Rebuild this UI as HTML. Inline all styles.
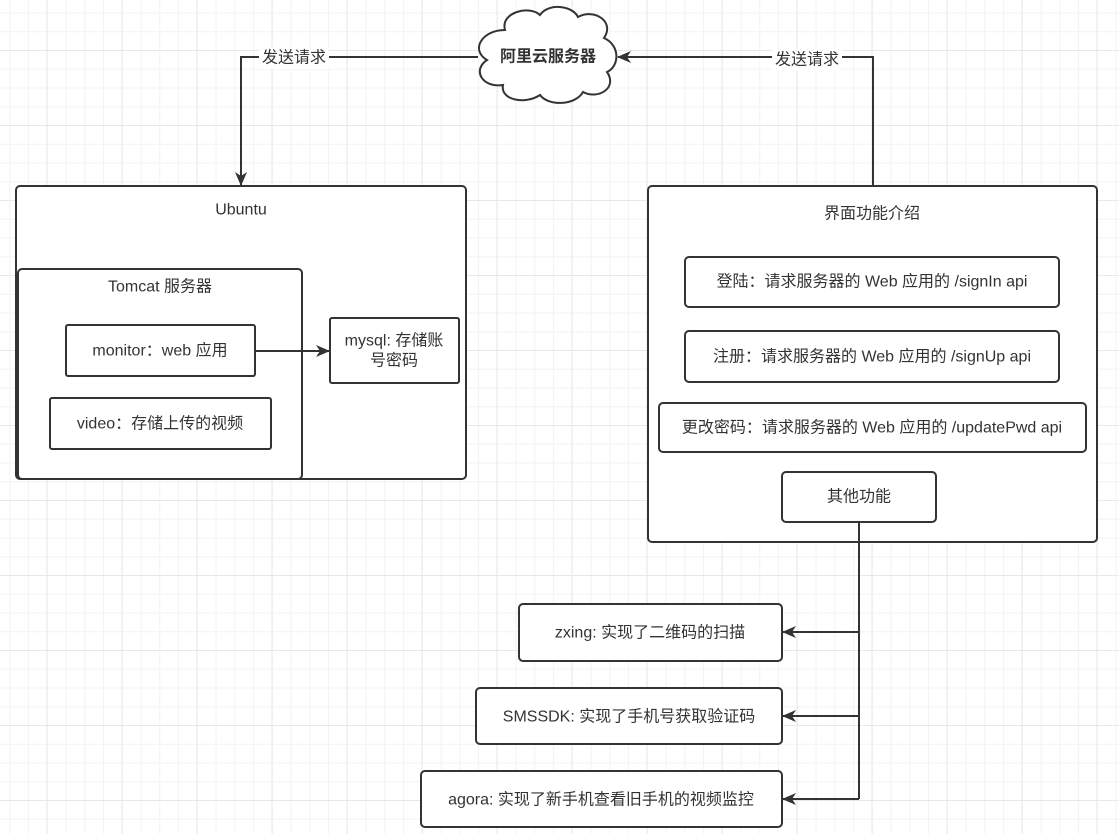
<!DOCTYPE html>
<html><head><meta charset="utf-8"><style>
body{margin:0;width:1119px;height:834px;overflow:hidden;background:#fff;
background-image:linear-gradient(#e8e8e8 1px,transparent 1px),linear-gradient(90deg,#e8e8e8 1px,transparent 1px),linear-gradient(#f3f3f3 1px,transparent 1px),linear-gradient(90deg,#f3f3f3 1px,transparent 1px);
background-size:75px 75px,75px 75px,18.75px 18.75px,18.75px 18.75px;
background-position:0 50px,46.5px 0,0 12.5px,9.3px 0;}
svg{position:absolute;left:0;top:0}
text{font-family:"Liberation Sans","Noto Sans CJK SC",sans-serif;font-size:16px;fill:#333;text-anchor:middle;dominant-baseline:central}
</style></head><body>
<svg width="1119" height="834" viewBox="0 0 1119 834">
<defs><marker id="a" markerWidth="14" markerHeight="14" refX="13" refY="7" orient="auto" markerUnits="userSpaceOnUse"><path d="M0,1 L14,7 L0,13 L4,7 Z" fill="#333"/></marker></defs>
<g fill="#fff" stroke="#333" stroke-width="2">
<rect x="16" y="186" width="450" height="293" rx="4"/>
<rect x="18" y="269" width="284" height="210" rx="4"/>
<rect x="66" y="325" width="189" height="51" rx="2"/>
<rect x="50" y="398" width="221" height="51" rx="2"/>
<rect x="330" y="318" width="129" height="65" rx="2"/>
<rect x="648" y="186" width="449" height="356" rx="4"/>
<rect x="685" y="257" width="374" height="50" rx="4"/>
<rect x="685" y="331" width="374" height="51" rx="4"/>
<rect x="659" y="403" width="427" height="49" rx="4"/>
<rect x="782" y="472" width="154" height="50" rx="4"/>
<rect x="519" y="604" width="263" height="57" rx="4"/>
<rect x="476" y="688" width="306" height="56" rx="4"/>
<rect x="421" y="771" width="361" height="56" rx="4"/>
<path d="M505,30 C500,12 530,5 540,15 C548,3 572,5 578,17 C595,8 615,22 604,38 C620,45 620,66 607,72 C618,88 598,100 583,92 C575,106 548,106 540,95 C525,105 500,100 503,85 C482,88 472,70 487,60 C470,50 482,30 505,30 Z"/>
</g>
<g fill="none" stroke="#333" stroke-width="2">
<path d="M478,57 H241 V185" marker-end="url(#a)"/>
<path d="M873,186 V57 H618" marker-end="url(#a)"/>
<path d="M255,351 H329" marker-end="url(#a)"/>
<path d="M859,522 V799"/>
<path d="M859,632 H783" marker-end="url(#a)"/>
<path d="M859,716 H783" marker-end="url(#a)"/>
<path d="M859,799 H783" marker-end="url(#a)"/>
</g>
<rect x="259" y="47" width="70" height="22" fill="#fff"/>
<rect x="772" y="49" width="70" height="22" fill="#fff"/>
<text x="294" y="58">发送请求</text>
<text x="807" y="60">发送请求</text>
<text x="548" y="57" style="font-weight:bold">阿里云服务器</text>
<text x="241" y="210">Ubuntu</text>
<text x="160" y="287">Tomcat 服务器</text>
<text x="160" y="351">monitor：web 应用</text>
<text x="160" y="424">video：存储上传的视频</text>
<text x="394" y="341">mysql: 存储账</text>
<text x="394" y="361">号密码</text>
<text x="872" y="214">界面功能介绍</text>
<text x="872" y="282">登陆：请求服务器的 Web 应用的 /signIn api</text>
<text x="872" y="357">注册：请求服务器的 Web 应用的 /signUp api</text>
<text x="872" y="428">更改密码：请求服务器的 Web 应用的 /updatePwd api</text>
<text x="859" y="497">其他功能</text>
<text x="650" y="633">zxing: 实现了二维码的扫描</text>
<text x="629" y="717">SMSSDK: 实现了手机号获取验证码</text>
<text x="601" y="800">agora: 实现了新手机查看旧手机的视频监控</text>
</svg>
</body></html>
